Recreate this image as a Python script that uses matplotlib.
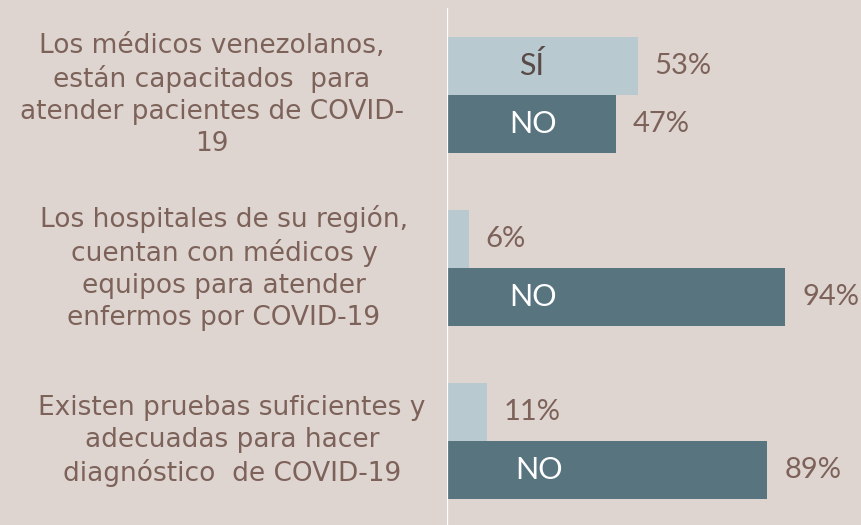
import matplotlib
matplotlib.use('Agg')
from matplotlib import pyplot as plt
from matplotlib import transforms
import numpy as np

#data
questions = [
    'Los médicos venezolanos,\nestán capacitados  para\natender pacientes de COVID-\n19',
    'Los hospitales de su región,\ncuentan con médicos y\nequipos para atender\nenfermos por COVID-19',
    'Existen pruebas suficientes y\nadecuadas para hacer\ndiagnóstico  de COVID-19',
]
si_vals = [53, 6, 11]
no_vals = [47, 94, 89]
si_text = ['SÍ', '', '']
no_text = ['NO', 'NO', 'NO']

bg = '#ded5d0'
light = '#b8c9d0'
dark = '#57747f'
brown = '#7d625a'

fig = plt.figure(figsize=(8.61, 5.25), dpi=100)
fig.patch.set_facecolor(bg)
ax = fig.add_axes([447/861, 0, 414/861, 1])
ax.set_facecolor(bg)

y = np.arange(len(questions))
h = 0.335
ax.barh(y - h/2, si_vals, height=h, color=light)
ax.barh(y + h/2, no_vals, height=h, color=dark)

ax.set_xlim(0, 115)
ax.set_ylim(2.486, -0.549)
for s in ax.spines.values():
    s.set_visible(False)
ax.set_xticks([])
ax.set_yticks([])
ax.axvline(0, ymin=0, ymax=1 - 9/525, color='white', lw=1.6)

#value labels
for i in range(len(questions)):
    ax.text(si_vals[i] + 4.7, y[i] - h/2, f'{si_vals[i]}%', va='center', ha='left',
            fontsize=21, color=brown, family='Lato')
    ax.text(no_vals[i] + 4.7, y[i] + h/2, f'{no_vals[i]}%', va='center', ha='left',
            fontsize=21, color=brown, family='Lato')
    if si_text[i]:
        ax.text(23.5, y[i] - h/2, si_text[i], va='center', ha='center',
                fontsize=22, color='#594a48', family='Lato')
    ax.text(24 + (1.5 if i == 2 else 0), y[i] + h/2, no_text[i], va='center', ha='center',
            fontsize=22, color='white', family='Lato')

#question labels on the left
trans = transforms.blended_transform_factory(fig.transFigure, ax.transData)
label_x = [212, 224, 232]
for i, q in enumerate(questions):
    ax.text(label_x[i]/861, y[i], q, transform=trans, ha='center', va='center',
            multialignment='center', fontsize=19, color=brown, linespacing=1.28,
            family='DejaVu Sans')

plt.savefig('out.png', dpi=100, facecolor=bg)
